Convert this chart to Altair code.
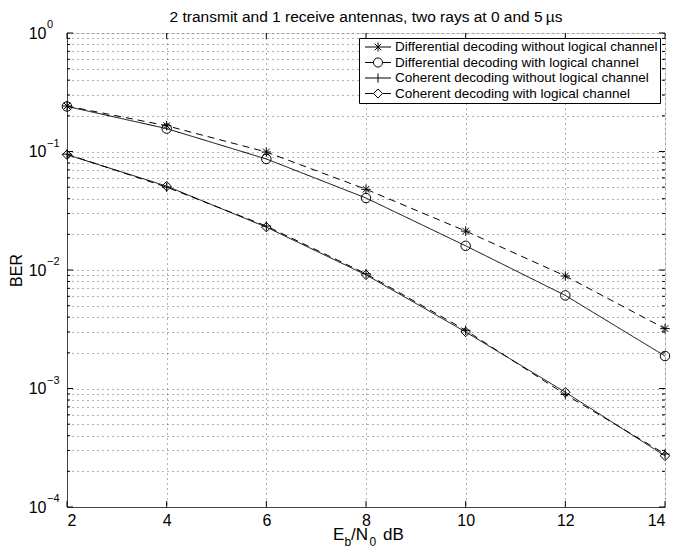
import altair as alt
import pandas as pd

snr = [2, 4, 6, 8, 10, 12, 14]
diff_wo = [0.242, 0.165, 0.099, 0.048, 0.0213, 0.0089, 0.0032]
diff_w = [0.240, 0.156, 0.0865, 0.0405, 0.0160, 0.0061, 0.00188]
coh_wo = [0.095, 0.050, 0.0235, 0.0093, 0.0031, 0.00089, 0.00028]
coh_w = [0.094, 0.051, 0.023, 0.0091, 0.0030, 0.00093, 0.00027]
series = [
    "Differential decoding without logical channel",
    "Differential decoding with logical channel",
    "Coherent decoding without logical channel",
    "Coherent decoding with logical channel",
]
x_ticks = [2, 4, 6, 8, 10, 12, 14]
decades = [-4, -3, -2, -1, 0]
title_text = "2 transmit and 1 receive antennas, two rays at 0 and 5\u2009\u00b5s"

rows = []
for name, vals in zip(series, [diff_wo, diff_w, coh_wo, coh_w]):
    for x, v in zip(snr, vals):
        rows.append({"snr": x, "ber": v, "series": name})
df = pd.DataFrame(rows)

FONT = "Liberation Sans"
W, H = 598, 474
major_y = [10.0 ** e for e in decades]
minor_y = [k * 10.0 ** e for e in decades[:-1] for k in range(2, 10)]
y_vals = sorted(major_y + minor_y)
expr = "''"
for e in decades:
    expr = f"abs(datum.value - {10.0 ** e}) < {10.0 ** e * 1e-6} ? '10' : " + expr

exp_df = pd.DataFrame({"ber": major_y,
                       "exp": [str(e).replace("-", "\u2212") for e in decades]})
xt_df = pd.DataFrame({"snr": x_ticks})
ymaj_df = pd.DataFrame({"ber": major_y})
ymin_df = pd.DataFrame({"ber": minor_y})

marker_paths = [
    "M-1,0L1,0M0,-1L0,1M-0.7,-0.7L0.7,0.7M-0.7,0.7L0.7,-0.7",
    "circle",
    "M-1,0L1,0M0,-1L0,1",
    "diamond",
]
legend_paths = [
    "M-2,0L2,0M0,-0.7L0,0.7M-0.5,-0.5L0.5,0.5M-0.5,0.5L0.5,-0.5",
    "M-2,0L-0.7,0M0.7,0L2,0M0.7,0A0.7,0.7,0,1,1,-0.7,0A0.7,0.7,0,1,1,0.7,0",
    "M-2,0L2,0M0,-0.7L0,0.7",
    "M-2,0L-0.7,0M0.7,0L2,0M0,-0.7L0.7,0L0,0.7L-0.7,0Z",
]

grid_kw = dict(grid=True, gridDash=[1, 4], gridColor="black", gridOpacity=0.6)
xs = alt.X("snr:Q", scale=alt.Scale(domain=[2, 14], nice=False),
           axis=alt.Axis(values=x_ticks, title=None, labelFontSize=16,
                         labelFont=FONT, labelColor="black", ticks=False,
                         domainColor="#444", labelPadding=5, **grid_kw))
ys = alt.Y("ber:Q", scale=alt.Scale(type="log", domain=[1e-4, 1], nice=False),
           axis=alt.Axis(values=y_vals, labelExpr=expr, title="BER", titleFontSize=16,
                         titleFont=FONT, titleFontWeight="normal", titleColor="black",
                         titleX=-43, labelFontSize=16, labelFont=FONT, labelColor="black",
                         labelOverlap=False, ticks=False, domainColor="#444",
                         labelPadding=21, **grid_kw))

lines = alt.Chart(df).mark_line(color="black", strokeWidth=1).encode(
    x=xs, y=ys,
    strokeDash=alt.StrokeDash("series:N", scale=alt.Scale(domain=series,
                              range=[[7, 5], [1, 0], [7, 5], [1, 0]]), legend=None),
    detail="series:N",
)
points = alt.Chart(df).mark_point(color="black", filled=False, strokeWidth=1, size=90, opacity=1).encode(
    x=xs, y=ys,
    shape=alt.Shape("series:N", scale=alt.Scale(domain=series, range=marker_paths), legend=None),
)
legend_layer = alt.Chart(df).transform_filter("datum.snr < 0").mark_point(
    color="black", filled=False, strokeWidth=1, opacity=1).encode(
    x=xs, y=ys,
    shape=alt.Shape("series:N", scale=alt.Scale(domain=series, range=legend_paths),
                    legend=alt.Legend(title=None, orient="top-right", offset=5,
                                      fillColor="white", strokeColor="black",
                                      padding=2, labelFont=FONT, labelFontSize=13.5,
                                      labelColor="black", labelOffset=10,
                                      symbolSize=169, symbolOffset=10,
                                      symbolStrokeColor="black",
                                      symbolStrokeWidth=1, rowPadding=1.5,
                                      symbolFillColor="transparent", labelLimit=400)),
)

def rule_layer(data, **enc):
    return alt.Chart(data).mark_rule(color="black", strokeWidth=1).encode(**enc)

ticks = [
    rule_layer(xt_df, x=xs, y=alt.value(H), y2=alt.value(H - 6)),
    rule_layer(xt_df, x=xs, y=alt.value(0), y2=alt.value(6)),
    rule_layer(ymaj_df, y=ys, x=alt.value(0), x2=alt.value(6)),
    rule_layer(ymin_df, y=ys, x=alt.value(0), x2=alt.value(3)),
    rule_layer(ymaj_df, y=ys, x=alt.value(W), x2=alt.value(W - 6)),
    rule_layer(ymin_df, y=ys, x=alt.value(W), x2=alt.value(W - 3)),
]

exps = alt.Chart(exp_df).mark_text(align="left", baseline="middle", dy=-8, font=FONT,
                                   fontSize=11, color="black").encode(
    y=ys, x=alt.value(-20), text="exp:N")

one = alt.Data(values=[{}])
def frag(txt, x, y, size, align="left"):
    return alt.Chart(one).mark_text(text=txt, align=align, baseline="alphabetic",
                                    font=FONT, fontSize=size, color="black").encode(
        x=alt.value(x), y=alt.value(y))

title = frag(title_text, W / 2, -11, 15.5, align="center")
xlabel = [
    frag("E", 266, 507, 17),
    frag("b", 277.5, 513, 12),
    frag("/N", 284, 507, 17),
    frag("0", 302.5, 513, 12),
    frag("dB", 316, 507, 17),
]

chart = alt.layer(lines, points, legend_layer, *ticks, exps, title, *xlabel).resolve_scale(
    shape="independent"
).properties(
    width=W, height=H,
    autosize=alt.AutoSizeParams(type="none"),
    padding={"left": 59, "top": 25, "right": 9, "bottom": 42},
).configure_view(stroke="black", strokeWidth=1).configure(background="white")

chart.save("out.html", embed_options={"renderer": "svg", "actions": False})
